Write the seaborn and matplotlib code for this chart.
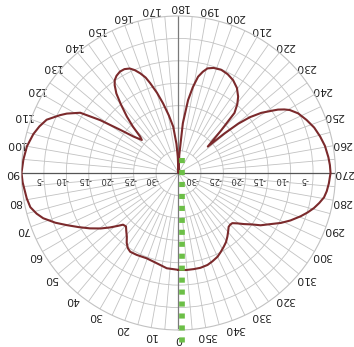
import numpy as np
import matplotlib
matplotlib.use("Agg")
import matplotlib.pyplot as plt
import matplotlib.transforms as mtransforms
import seaborn as sns

# Radiation pattern: azimuth (degrees) and relative gain (dB)
angle_deg = [0, 7, 13.5, 20.5, 27, 31.5, 34, 36.5, 39, 42, 44.5, 47, 49, 51.5, 54.5, 58, 61.5,
             65, 68, 71.5, 74, 77, 80.5, 83.5, 86.5, 90,
             95, 100, 105, 108.5, 112, 116, 118, 121.5, 124, 126.5, 129, 132, 133.5, 135.5,
             137.5, 140, 142, 144, 145.5, 147.5, 150, 152.5, 155, 157, 159, 161, 162.5, 165,
             167.5, 170.5, 173.5, 176, 177.5, 180,
             182.5, 185, 187.5, 189.5, 191.5, 193.5, 195.5, 198.5, 202.5, 206.5, 210.5, 214.5,
             218, 220.5, 223, 225, 228, 229.3, 230.5, 232, 234, 236, 237.5, 239, 240.5, 243.5,
             247.5, 251.5, 255.5, 259.5, 264, 267, 270,
             274, 277, 279.5, 282, 284.5, 287, 289.5, 293, 296, 299, 302.5, 305, 308, 310.5,
             313, 315, 317, 320, 322.5, 325.5, 328.5, 332, 335, 339, 342.5, 347, 351, 355.5,
             360]
gain_db = [-13.4, -13.6, -14.3, -14.7, -14.5, -14.4, -14.8, -15.6, -16.7, -17.6, -18.3, -18.1,
           -17.0, -15.5, -13.7, -11.7, -9.7,
           -7.5, -5.4, -3.2, -2.1, -1.1, -0.7, -0.5, -0.2, 0.0,
           -0.3, -0.7, -1.5, -2.3, -3.3, -5.6, -6.8, -9.3, -13.9, -18.8, -22.1, -24.0, -23.2,
           -20.5, -18.0, -15.0, -12.5, -10.8, -9.9, -9.3, -8.9, -8.9, -9.3, -10.1, -11.2,
           -12.5, -14.0, -16.5, -19.1, -22.0, -24.6, -28.5, -31.4, -35.0,
           -31.0, -23.9, -18.6, -15.6, -13.1, -11.8, -10.8, -10.3, -10.1, -10.4, -11.0, -12.0,
           -13.4, -14.8, -16.7, -21.5, -26.2, -21.5, -17.7, -14.8, -12.2, -10.3, -8.7, -7.5,
           -6.5, -5.2, -4.1, -3.1, -2.4, -1.8, -1.4, -1.2, -1.1,
           -1.4, -1.7, -2.1, -2.9, -3.8, -4.9, -6.1, -7.9, -9.6, -11.5, -13.3, -15.0, -16.5,
           -17.7, -18.6, -18.7, -18.6, -17.8, -17.1, -16.3, -15.7, -15.0, -14.4, -13.9, -13.5,
           -13.3, -13.3, -13.3, -13.4]

angle_ticks = list(range(0, 360, 10))
ring_levels = [-30, -25, -20, -15, -10, -5]
r_min, r_max = -35, 0
marker_angle_deg = 0
marker_r = [-31.7, 3.5]

sns.set_theme(style="white")
plt.rcParams["font.family"] = ["DejaVu Sans"]

grid_c = "#c2c2c2"
text_c = "#222222"

fig = plt.figure(figsize=(3.54, 3.47), dpi=100, facecolor="white")
ax = fig.add_axes([0.0607, 0.049, 0.887, 0.905], projection="polar")
ax.set_facecolor("white")
ax.set_theta_zero_location("S")
ax.set_theta_direction(-1)
ax.set_rlim(r_min, r_max)

# range rings
ax.set_yticks(ring_levels)
ax.set_yticklabels([])
ax.xaxis.grid(False)
ax.yaxis.grid(True, color=grid_c, lw=0.6)
ax.spines["polar"].set_color(grid_c)
ax.spines["polar"].set_linewidth(0.8)

# spokes: dense towards the rim, sparse near the centre
for a in range(0, 360, 5):
    if a % 30 == 0:
        r0 = r_min
    elif a % 10 == 0:
        r0 = -30
    else:
        r0 = -25
    ax.plot([np.deg2rad(a)] * 2, [r0, r_max], color=grid_c, lw=0.6, zorder=1)

# main axes through the centre
ax.plot([np.deg2rad(90)] * 2, [r_min, r_max], color="#555555", lw=0.9, zorder=2)
ax.plot([np.deg2rad(270)] * 2, [r_min, r_max], color="#555555", lw=0.9, zorder=2)
ax.plot([0, 0], [r_min, r_max], color="#7a7a7a", lw=0.9, zorder=2)
ax.plot([np.pi] * 2, [r_min, r_max], color="#7a7a7a", lw=0.9, zorder=2)

# angle labels
ax.set_xticks(np.deg2rad(angle_ticks))
ax.set_xticklabels([str(a) for a in angle_ticks])
ax.tick_params(axis="x", labelrotation=180, pad=-0.8, labelsize=7.8,
               labelcolor=text_c, length=0)

# range labels along the horizontal axis
for lev in ring_levels:
    ax.annotate(f"{lev}", xy=(np.deg2rad(90), lev + 0.9), xytext=(0, -7),
                textcoords="offset pixels", rotation=180, ha="center", va="center",
                fontsize=6, color="#333333")
    ax.annotate(f"{lev}", xy=(np.deg2rad(270), lev - 2.0), xytext=(0, -7),
                textcoords="offset pixels", rotation=180, ha="center", va="center",
                fontsize=6, color="#333333")

# pattern trace
sns.lineplot(x=np.deg2rad(angle_deg), y=gain_db, sort=False, estimator=None,
             color="#7b2a2c", lw=1.5, ax=ax, zorder=4)

# boresight marker
shift = mtransforms.offset_copy(ax.transData, fig=fig, x=3.5, y=0, units="dots")
ax.plot([np.pi, np.deg2rad(marker_angle_deg)], marker_r, color="#6cbf47", lw=4.1,
        linestyle=(0, (0.9, 1.2)), dash_capstyle="butt", transform=shift,
        clip_on=False, zorder=5)

ax.set_xlabel("")
ax.set_ylabel("")
fig.savefig("out.png", dpi=100, facecolor="white")
